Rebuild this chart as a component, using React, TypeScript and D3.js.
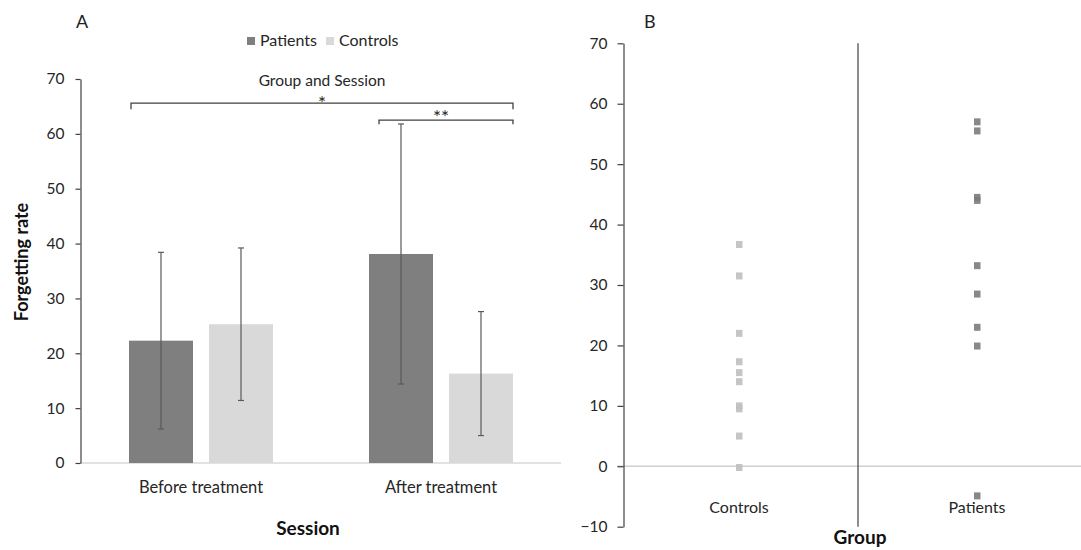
import React, { useEffect, useRef } from 'react';
import * as d3 from 'd3';

const sessions = ['Before treatment', 'After treatment'];
const groups = ['Patients', 'Controls'];
const meanPatients = [22.3, 38.1];
const meanControls = [25.3, 16.3];
const sdPatients = [16.1, 23.7];
const sdControls = [13.9, 11.3];
const yTicksA = [0, 10, 20, 30, 40, 50, 60, 70];

const scatterGroups = ['Controls', 'Patients'];
const controlScores = [36.7, 31.5, 22, 17.3, 15.5, 14, 10, 9.5, 5, -0.2];
const patientScores = [57, 55.5, 44.5, 44, 33.2, 28.5, 23, 19.9, -4.9];
const yTicksB = [-10, 0, 10, 20, 30, 40, 50, 60, 70];

const W = 1081;
const H = 550;
const FONT = 'Lato, "Open Sans", sans-serif';
const TXT = '#262626';
const colors: Record<string, string> = { Patients: '#7f7f7f', Controls: '#d9d9d9' };
const dotColors: Record<string, string> = { Patients: '#7b7b7b', Controls: '#bfbfbf' };

const App = () => {
  const axisA = useRef<SVGGElement>(null);
  const axisB = useRef<SVGGElement>(null);

  // panel A scales
  const yA = d3.scaleLinear().domain([0, 70]).range([463, 79]);
  const xA = d3.scaleBand().domain(sessions).range([81, 561]);
  const xIn = d3.scaleBand().domain(groups).range([48, 192]).paddingInner(0.2);

  // panel B scales
  const yB = d3.scaleLinear().domain([-10, 70]).range([526.7, 43.3]);
  const xB = d3.scaleBand().domain(scatterGroups).range([620, 1096]);

  const bars = sessions.flatMap((s, i) => [
    { session: s, group: 'Patients', mean: meanPatients[i], sd: sdPatients[i] },
    { session: s, group: 'Controls', mean: meanControls[i], sd: sdControls[i] },
  ]);

  const points = [
    ...controlScores.map((v) => ({ group: 'Controls', v })),
    ...patientScores.map((v) => ({ group: 'Patients', v })),
  ];

  useEffect(() => {
    const style = (g: any) => {
      g.select('.domain').attr('stroke', '#404040').attr('stroke-width', 1.2);
      g.selectAll('.tick line').attr('stroke', '#404040').attr('stroke-width', 1.2);
      g.selectAll('.tick text')
        .attr('fill', TXT)
        .style('font-family', FONT)
        .style('font-size', '15.5px');
    };
    d3.select(axisA.current)
      .call(d3.axisLeft(yA).tickValues(yTicksA).tickSize(5).tickSizeOuter(0).tickPadding(11) as any)
      .call(style);
    d3.select(axisB.current)
      .call(d3.axisLeft(yB).tickValues(yTicksB).tickSize(6).tickSizeOuter(0).tickPadding(10) as any)
      .call(style);
  }, []);

  // significance brackets (panel A)
  const barLeft = (s: string, g: string) => (xA(s) as number) + (xIn(g) as number);
  const barRight = (s: string, g: string) => barLeft(s, g) + xIn.bandwidth();
  const big = { x1: barLeft(sessions[0], 'Patients') + 2, x2: barRight(sessions[1], 'Controls'), y: yA(65.6) };
  const small = { x1: barLeft(sessions[1], 'Patients') + 10, x2: barRight(sessions[1], 'Controls'), y: yA(62.5) };

  return (
    <svg width={W} height={H} style={{ position: 'absolute', left: 0, top: 0, background: '#fff' }} fontFamily={FONT}>
      {/* ---------- Panel A ---------- */}
      <text x={76} y={28} fontSize={18} fill="#222">A</text>

      {/* legend */}
      {groups.map((g, i) => {
        const lx = [247, 326][i];
        return (
          <g key={g}>
            <rect x={lx} y={37} width={8} height={8} fill={colors[g]} />
            <text x={lx + 13} y={46} fontSize={16} fill={TXT}>{g}</text>
          </g>
        );
      })}

      {/* baseline */}
      <line x1={80} x2={561} y1={yA(0)} y2={yA(0)} stroke="#d9d9d9" strokeWidth={1.5} />

      {bars.map((b, i) => (
        <rect key={i} x={barLeft(b.session, b.group)} y={yA(b.mean)} width={xIn.bandwidth()}
          height={yA(0) - yA(b.mean)} fill={colors[b.group]} />
      ))}

      {bars.map((b, i) => {
        const cx = barLeft(b.session, b.group) + xIn.bandwidth() / 2;
        return (
          <g key={i} stroke="#595959" strokeWidth={1.2}>
            <line x1={cx} x2={cx} y1={yA(b.mean + b.sd)} y2={yA(b.mean - b.sd)} />
            <line x1={cx - 3} x2={cx + 3} y1={yA(b.mean + b.sd)} y2={yA(b.mean + b.sd)} />
            <line x1={cx - 3} x2={cx + 3} y1={yA(b.mean - b.sd)} y2={yA(b.mean - b.sd)} />
          </g>
        );
      })}

      <g ref={axisA} transform="translate(80.5,0)" />

      {/* brackets */}
      <path d={`M${big.x1},${big.y + 6}V${big.y}H${big.x2}V${big.y + 6}`} fill="none" stroke="#404040" strokeWidth={1.3} />
      <path d={`M${small.x1},${small.y + 4}V${small.y}H${small.x2}V${small.y + 4}`} fill="none" stroke="#404040" strokeWidth={1.3} />
      <text x={(big.x1 + big.x2) / 2} y={86} textAnchor="middle" fontSize={15.5} fill={TXT}>Group and Session</text>
      <text x={(big.x1 + big.x2) / 2} y={110} textAnchor="middle" fontSize={19} fill={TXT}>*</text>
      <text x={441} y={124} textAnchor="middle" fontSize={19} fill={TXT}>**</text>

      {sessions.map((s) => (
        <text key={s} x={(xA(s) as number) + xA.bandwidth() / 2} y={493} textAnchor="middle" fontSize={16.5} fill={TXT}>{s}</text>
      ))}

      <text x={308} y={535} textAnchor="middle" fontSize={19} fontWeight="bold" fill="#111">Session</text>
      <text transform="translate(28,262) rotate(-90)" textAnchor="middle" fontSize={18} fontWeight="bold" fill="#111">Forgetting rate</text>

      {/* ---------- Panel B ---------- */}
      <text x={644} y={28} fontSize={18} fill="#222">B</text>

      <line x1={617} x2={W} y1={yB(0)} y2={yB(0)} stroke="#d0d0d0" strokeWidth={1.5} />
      <line x1={xB('Patients') as number} x2={xB('Patients') as number} y1={yB(70)} y2={yB(-10)} stroke="#404040" strokeWidth={1.2} />
      <g ref={axisB} transform="translate(623.5,0)" />

      {points.map((p, i) => (
        <rect key={i} x={(xB(p.group) as number) + xB.bandwidth() / 2 - 3} y={yB(p.v) - 3.5} width={6.5} height={7}
          fill={dotColors[p.group]} opacity={0.9} />
      ))}

      {scatterGroups.map((g) => (
        <text key={g} x={(xB(g) as number) + xB.bandwidth() / 2} y={513} textAnchor="middle" fontSize={16} fill={TXT}>{g}</text>
      ))}
      <text x={860} y={544} textAnchor="middle" fontSize={19} fontWeight="bold" fill="#111">Group</text>
    </svg>
  );
};

export default App;
